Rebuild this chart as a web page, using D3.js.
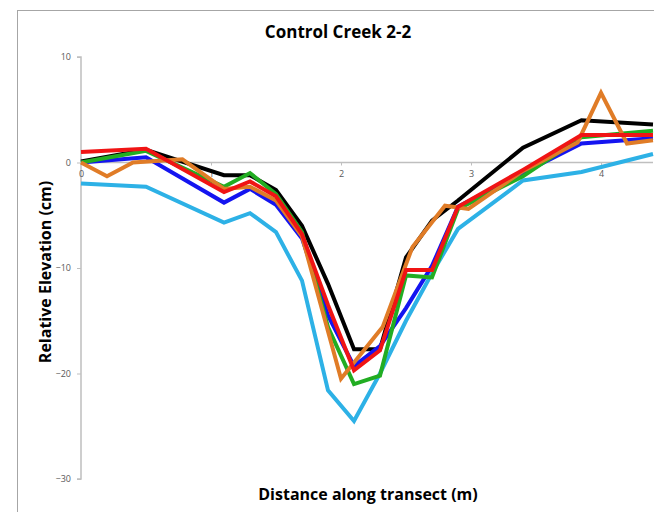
<!DOCTYPE html>
<html>
<head>
<meta charset="utf-8">
<script src="https://cdn.jsdelivr.net/npm/d3@7"></script>
<style>
  body { margin: 0; background: #fff; }
  svg { display: block; font-family: "Open Sans", "Liberation Sans", sans-serif; }
  .axis-title { font-weight: bold; font-size: 16px; fill: #000; }
</style>
</head>
<body>
<svg id="chart" width="654" height="512"></svg>
<script>
// survey stations (m) shared by most transects
const distance = [0, 0.5, 1.1, 1.3, 1.5, 1.7, 1.9, 2.1, 2.3, 2.5, 2.7, 2.9, 3.4, 3.85, 4.4];

// relative elevation (cm) per transect
const cyanElev  = [-2.0, -2.3, -5.7, -4.8, -6.6, -11.2, -21.6, -24.5, -20.0, -15.0, -10.5, -6.3, -1.7, -0.9, 0.8];
const blackElev = [0.1, 1.2, -1.2, -1.2, -2.6, -6.0, -11.5, -17.7, -17.7, -9.0, -5.5, -3.6, 1.4, 4.0, 3.6];
const blueElev  = [0.0, 0.5, -3.8, -2.5, -4.0, -7.2, -14.5, -19.3, -17.4, -13.8, -9.8, -4.2, -1.0, 1.8, 2.3];
const greenElev = [0.0, 1.1, -2.3, -1.0, -3.0, -6.6, -15.6, -21.0, -20.2, -10.7, -10.9, -4.4, -1.3, 2.4, 3.0];
const redElev   = [1.0, 1.3, -2.8, -1.8, -3.2, -6.8, -13.5, -19.7, -17.8, -10.2, -10.2, -4.2, -0.7, 2.6, 2.6];

// orange transect was surveyed at its own stations
const orangeDist = [0, 0.2, 0.4, 0.78, 1.1, 1.3, 1.5, 1.7, 2.0, 2.32, 2.55, 2.8, 2.98, 3.4, 3.82, 4.0, 4.2, 4.4];
const orangeElev = [0.0, -1.3, 0.0, 0.3, -2.5, -2.3, -3.6, -7.0, -20.5, -15.6, -8.0, -4.1, -4.4, -0.8, 1.9, 6.6, 1.8, 2.1];

const yTicks = [10, 0, -10, -20, -30];
const xTicks = [0, 1, 2, 3, 4];

const series = [
  { name: "cyan", color: "#2db1e6", x: distance, y: cyanElev },
  { name: "black", color: "#000000", x: distance, y: blackElev },
  { name: "blue", color: "#1414f0", x: distance, y: blueElev },
  { name: "green", color: "#22ad22", x: distance, y: greenElev },
  { name: "orange", color: "#e07c27", x: orangeDist, y: orangeElev },
  { name: "red", color: "#f01414", x: distance, y: redElev }
];

const svg = d3.select("#chart");

// chart frame (runs past the picture on right and bottom)
svg.append("rect")
  .attr("x", 17.5).attr("y", 10.5)
  .attr("width", 700).attr("height", 600)
  .attr("fill", "none")
  .attr("stroke", "#a6a6a6");

const x = d3.scaleLinear().domain([0, 4.4]).range([81, 653]);
const y = d3.scaleLinear().domain([-30, 10]).range([479, 57]);

svg.append("text")
  .attr("x", 338).attr("y", 38)
  .attr("text-anchor", "middle")
  .style("font-weight", "bold").style("font-size", "17px")
  .text("Control Creek 2-2");

// y axis
const yAxis = svg.append("g").attr("transform", `translate(${x(0)},0)`)
  .call(d3.axisLeft(y).tickValues(yTicks).tickFormat(d3.format("d")).tickSize(4).tickPadding(6));
yAxis.select(".domain").attr("stroke", "#bfbfbf").attr("stroke-width", 1.5)
  .attr("d", `M-4,${y(10)}H0V${y(-30)}H-4`);
yAxis.selectAll(".tick line").attr("stroke", "#bfbfbf");

// x axis at zero
const xAxis = svg.append("g").attr("transform", `translate(0,${y(0)})`)
  .call(d3.axisBottom(x).tickValues(xTicks).tickFormat(d3.format("d")).tickSize(3).tickPadding(5));
xAxis.select(".domain").attr("stroke", "#bfbfbf").attr("stroke-width", 1.5)
  .attr("d", `M${x(0)},0H${x(4.4)}`);
xAxis.selectAll(".tick line").attr("stroke", "#bfbfbf");
xAxis.selectAll(".tick").filter(d => d === 0).select("line").remove();

svg.selectAll(".tick text")
  .attr("fill", "#595959")
  .style("font-family", "'Open Sans', sans-serif")
  .style("font-size", "9px");

// lines
const line = d3.line().x(d => x(d[0])).y(d => y(d[1]));
svg.append("g")
  .selectAll("path")
  .data(series)
  .join("path")
  .attr("d", s => line(s.x.map((v, i) => [v, s.y[i]])))
  .attr("fill", "none")
  .attr("stroke", s => s.color)
  .attr("stroke-width", 4)
  .attr("stroke-linejoin", "miter");

svg.append("text")
  .attr("class", "axis-title")
  .attr("x", 368).attr("y", 500)
  .attr("text-anchor", "middle")
  .text("Distance along transect (m)");

svg.append("text")
  .attr("class", "axis-title")
  .attr("transform", "translate(51,272) rotate(-90)")
  .attr("text-anchor", "middle")
  .text("Relative Elevation (cm)");
</script>
</body>
</html>
